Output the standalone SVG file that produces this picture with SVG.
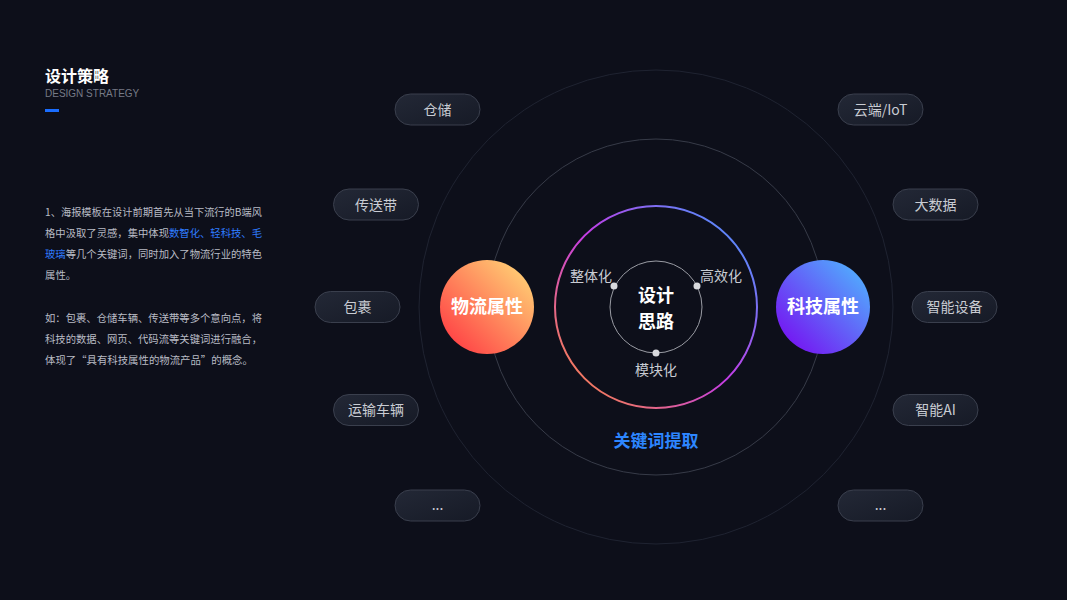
<svg xmlns="http://www.w3.org/2000/svg" width="1067" height="600" viewBox="0 0 1067 600">
<defs>
<linearGradient id="ring" x1="560" y1="400" x2="752" y2="214" gradientUnits="userSpaceOnUse">
<stop offset="0" stop-color="#ff8a3a"/>
<stop offset="0.5" stop-color="#c43ce6"/>
<stop offset="1" stop-color="#3f9bff"/>
</linearGradient>
<linearGradient id="orange" x1="1" y1="0" x2="0" y2="1">
<stop offset="0" stop-color="#ffe07a"/>
<stop offset="1" stop-color="#ff2f3f"/>
</linearGradient>
<linearGradient id="blue" x1="1" y1="0" x2="0" y2="1">
<stop offset="0" stop-color="#4cc0ff"/>
<stop offset="1" stop-color="#7a00f0"/>
</linearGradient>
<linearGradient id="pill" x1="0" y1="0" x2="1" y2="1">
<stop offset="0" stop-color="#232836"/>
<stop offset="1" stop-color="#161a26"/>
</linearGradient>
<style>
.pill rect{fill:url(#pill);stroke:#3a3f4d;stroke-width:1}
.pill text{fill:#c9ccd3;font-family:"Noto Sans CJK SC","Noto Sans",sans-serif;font-size:14px;text-anchor:middle}
.para{fill:#b9bcc5;font-family:"Noto Sans CJK SC","Noto Sans",sans-serif;font-size:10.4px}
.hl{fill:#2f7cff}
.lbl{fill:#c9ccd3;font-family:"Noto Sans CJK SC","Noto Sans",sans-serif;font-size:14px;text-anchor:middle}
.big{fill:#ffffff;font-family:"Noto Sans CJK SC","Noto Sans",sans-serif;font-size:18px;font-weight:bold;text-anchor:middle}
</style>
</defs>
<rect width="1067" height="600" fill="#0d0f1a"/>

<g id="header">
<text x="45" y="82" fill="#ffffff" font-family="'Noto Sans CJK SC','Noto Sans',sans-serif" font-size="16" font-weight="bold">设计策略</text>
<text x="45" y="97" fill="#767a86" font-family="'Liberation Sans',Arial,sans-serif" font-size="10">DESIGN STRATEGY</text>
<rect x="45" y="109" width="14" height="3" fill="#1a6dff"/>
</g>

<g id="description">
<text class="para" x="45" y="216" textLength="217" lengthAdjust="spacingAndGlyphs">1、海报模板在设计前期首先从当下流行的B端风</text>
<text class="para" x="45" y="237" textLength="217" lengthAdjust="spacingAndGlyphs">格中汲取了灵感，集中体现<tspan class="hl">数智化、轻科技、毛</tspan></text>
<text class="para" x="45" y="258" textLength="217" lengthAdjust="spacingAndGlyphs"><tspan class="hl">玻璃</tspan>等几个关键词，同时加入了物流行业的特色</text>
<text class="para" x="45" y="279">属性。</text>
<text class="para" x="45" y="322" textLength="217" lengthAdjust="spacingAndGlyphs">如：包裹、仓储车辆、传送带等多个意向点，将</text>
<text class="para" x="45" y="343" textLength="217" lengthAdjust="spacingAndGlyphs">科技的数据、网页、代码流等关键词进行融合，</text>
<text class="para" x="45" y="364">体现了“具有科技属性的物流产品”的概念。</text>
</g>

<g id="circles" fill="none">
<circle cx="656" cy="307" r="237" stroke="#1f2331" stroke-width="1"/>
<circle cx="656" cy="307" r="168" stroke="#373b48" stroke-width="1"/>
<circle cx="656" cy="307" r="101" stroke="url(#ring)" stroke-width="2"/>
<circle cx="656" cy="307" r="46" stroke="#9a9ca4" stroke-width="1"/>
</g>

<g id="core">
<text class="big" x="656" y="302" font-size="20">设计</text>
<text class="big" x="656" y="328" font-size="20">思路</text>
</g>

<g id="dots" fill="#d8d9dd">
<circle cx="614" cy="286" r="3.5"/>
<circle cx="697" cy="286" r="3.5"/>
<circle cx="656" cy="353" r="3.5"/>
</g>
<g id="facets">
<text class="lbl" x="591" y="281">整体化</text>
<text class="lbl" x="721" y="281">高效化</text>
<text class="lbl" x="656" y="375">模块化</text>
</g>

<g id="logistics">
<circle cx="487" cy="307" r="47" fill="url(#orange)"/>
<text class="big" x="487" y="313">物流属性</text>
</g>
<g id="tech">
<circle cx="823" cy="307" r="47" fill="url(#blue)"/>
<text class="big" x="823" y="313">科技属性</text>
</g>

<g id="keyword">
<text x="656" y="447" fill="#2d86ff" font-family="'Noto Sans CJK SC','Noto Sans',sans-serif" font-size="17" font-weight="bold" text-anchor="middle">关键词提取</text>
</g>

<g id="p-cangchu" class="pill"><rect x="395" y="94" width="85" height="31" rx="15.5"/><text x="437.5" y="114.5">仓储</text></g>
<g id="p-chuansongdai" class="pill"><rect x="333.5" y="189" width="85" height="31" rx="15.5"/><text x="376" y="209.5">传送带</text></g>
<g id="p-baoguo" class="pill"><rect x="315" y="291.5" width="85" height="31" rx="15.5"/><text x="357.5" y="312">包裹</text></g>
<g id="p-yunshu" class="pill"><rect x="333.5" y="394.5" width="85" height="31" rx="15.5"/><text x="376" y="415">运输车辆</text></g>
<g id="p-left-more" class="pill"><rect x="395" y="490" width="85" height="31" rx="15.5"/><text x="437.5" y="510">...</text></g>

<g id="p-iot" class="pill"><rect x="838" y="94" width="85" height="31" rx="15.5"/><text x="880.5" y="114.5">云端/IoT</text></g>
<g id="p-bigdata" class="pill"><rect x="893" y="189" width="85" height="31" rx="15.5"/><text x="935.5" y="209.5">大数据</text></g>
<g id="p-device" class="pill"><rect x="912" y="291.5" width="85" height="31" rx="15.5"/><text x="954.5" y="312">智能设备</text></g>
<g id="p-ai" class="pill"><rect x="893" y="394.5" width="85" height="31" rx="15.5"/><text x="935.5" y="415">智能AI</text></g>
<g id="p-right-more" class="pill"><rect x="838" y="490" width="85" height="31" rx="15.5"/><text x="880.5" y="510">...</text></g>
</svg>
